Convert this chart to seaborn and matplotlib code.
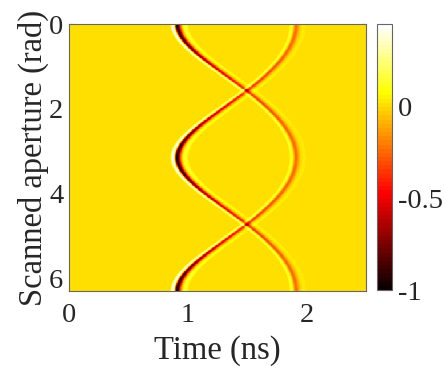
import numpy as np
import pandas as pd
import matplotlib
matplotlib.use("Agg")
import matplotlib.pyplot as plt
import seaborn as sns

# axis and colour-bar annotations
time_ticks = [0, 1, 2]
aperture_ticks = [0, 2, 4, 6]
cbar_ticks = [0, -0.5, -1]
cbar_tick_labels = ["0", "-0.5", "-1"]
time_range_ns = [0.0, 2.5]
aperture_range_rad = [0.0, 2 * np.pi]
color_range = [-1.0, 0.45]

# two echo traces: earliest / latest arrival (ns) and aperture angle of earliest arrival
arrival_extremes_ns = [0.91, 1.91]
trace_phase_rad = [0.0, np.pi]
peak_amplitude = -1.0
spreading_exponent = 1.9

# pulse shape (ns): main negative lobe with a leading and a trailing positive lobe
main_width_ns = [0.015, 0.026]        # rising / falling side
lead_lobe = [-0.037, 0.013, 0.55]     # offset, width, relative height
trail_lobe = [0.068, 0.02, 0.15]


def pulse(tau):
    width = np.where(tau < 0, main_width_ns[0], main_width_ns[1])
    main = np.exp(-(tau / width) ** 2)
    lead = lead_lobe[2] * np.exp(-((tau - lead_lobe[0]) / lead_lobe[1]) ** 2)
    trail = trail_lobe[2] * np.exp(-((tau - trail_lobe[0]) / trail_lobe[1]) ** 2)
    return main - lead - trail


n_t, n_a = 520, 380
t_step = (time_range_ns[1] - time_range_ns[0]) / n_t
a_step = (aperture_range_rad[1] - aperture_range_rad[0]) / n_a
t = time_range_ns[0] + (np.arange(n_t) + 0.5) * t_step
theta = aperture_range_rad[0] + (np.arange(n_a) + 0.5) * a_step

near, far = arrival_extremes_ns
R, r = (near + far) / 2, (far - near) / 2
field = np.zeros((n_a, n_t))
for phase in trace_phase_rad:
    arrival = np.sqrt(R ** 2 + r ** 2 - 2 * R * r * np.cos(theta - phase))
    amp = peak_amplitude * (near / arrival) ** spreading_exponent
    field += amp[:, None] * pulse(t[None, :] - arrival[:, None])

df = pd.DataFrame(field, index=theta, columns=t)

sns.set_theme(style="white")
plt.rcParams["font.family"] = ["Liberation Serif", "DejaVu Serif"]
plt.rcParams["axes.unicode_minus"] = False

W, H = 444, 373
fig = plt.figure(figsize=(W / 100, H / 100), dpi=100)
ax = fig.add_axes([69 / W, 1 - 291 / H, (366 - 69) / W, (291 - 24) / H])
cax = fig.add_axes([377 / W, 1 - 290 / H, (392 - 377) / W, (290 - 24) / H])

sns.heatmap(df, ax=ax, cbar_ax=cax, cmap=plt.get_cmap("hot", 64),
            vmin=color_range[0], vmax=color_range[1],
            xticklabels=False, yticklabels=False, rasterized=True)

edge = "#666666"
text_c = "#262626"
fs_tick = 20.5
fs_label = 23.5

ax.set_xticks([(v - time_range_ns[0]) / t_step for v in time_ticks])
ax.set_xticklabels([str(v) for v in time_ticks])
ax.set_yticks([(v - aperture_range_rad[0]) / a_step for v in aperture_ticks])
ax.set_yticklabels([str(v) for v in aperture_ticks], rotation=0)
ax.tick_params(direction="in", length=3, width=0.8, color=edge,
               top=True, right=True, bottom=True, left=True,
               labelsize=fs_tick, labelcolor=text_c)
ax.tick_params(axis="x", pad=9)
ax.tick_params(axis="y", pad=4)
for s in ax.spines.values():
    s.set_visible(True)
    s.set_color(edge)
    s.set_linewidth(0.8)
ax.set_xlabel("Time (ns)", fontsize=fs_label, color=text_c, labelpad=5)
ax.set_ylabel("Scanned aperture (rad)", fontsize=fs_label, color=text_c, labelpad=0)

cbar = ax.collections[0].colorbar
cbar.set_ticks(cbar_ticks)
cbar.set_ticklabels(cbar_tick_labels)
cbar.outline.set_visible(True)
cbar.outline.set_edgecolor(edge)
cbar.outline.set_linewidth(0.8)
cax.tick_params(direction="in", length=3, width=0.8, color=edge,
                labelsize=fs_tick, labelcolor=text_c, pad=4)

fig.savefig("out.png", dpi=100)
